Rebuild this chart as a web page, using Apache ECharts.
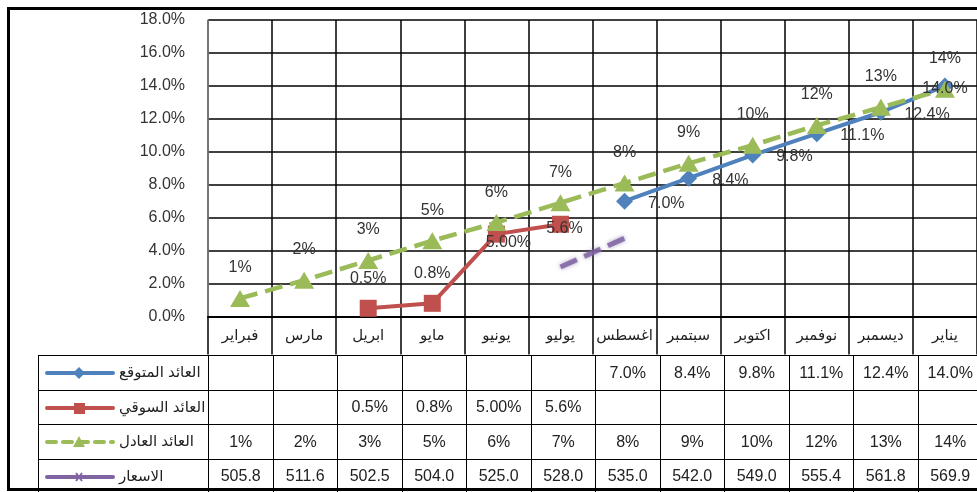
<!DOCTYPE html>
<html>
<head>
<meta charset="utf-8">
<script src="https://cdn.jsdelivr.net/npm/echarts@6/dist/echarts.min.js"></script>
<style>
  html, body { margin: 0; padding: 0; background: #fff; overflow: hidden; }
  .wrap { position: relative; width: 977px; height: 492px; overflow: hidden; }
  #chart { position: absolute; left: 0; top: 0; width: 977px; height: 492px; }
  .frame {
    position: absolute; left: 7px; top: 7px; width: 1000px; height: 484px;
    box-sizing: border-box; border: 3.5px solid #000; pointer-events: none; z-index: 5;
  }
  table.data {
    position: absolute; left: 38px; top: 355px; z-index: 3;
    border-collapse: collapse; table-layout: fixed; width: 944px;
    font-family: "Liberation Sans", "DejaVu Sans", sans-serif; font-size: 16px; color: #222;
  }
  table.data td {
    border: 1.5px solid #000; height: 34.5px; padding: 0; box-sizing: border-box;
    text-align: center; white-space: nowrap; overflow: hidden; position: relative;
  }
  td.key svg { position: absolute; left: 6px; top: 10px; }
  td.key span { position: absolute; left: 80px; top: 7px; font-size: 15px; }
</style>
</head>
<body>
<div class="wrap">
  <div id="chart"></div>
  <table class="data" id="tbl"></table>
  <div class="frame"></div>
</div>
<script>
// الأشهر
const months = ["فبراير", "مارس", "ابريل", "مايو", "يونيو", "يوليو", "اغسطس", "سبتمبر", "اكتوبر", "نوفمبر", "ديسمبر", "يناير"];
// العائد المتوقع
const expected = [null, null, null, null, null, null, 7.0, 8.4, 9.8, 11.1, 12.4, 14.0];
// العائد السوقي
const market = [null, null, 0.5, 0.8, 5.00, 5.6, null, null, null, null, null, null];
const marketText = ["", "", "0.5%", "0.8%", "5.00%", "5.6%", "", "", "", "", "", ""];
// العائد العادل
const fair = [1.1, 2.2, 3.4, 4.6, 5.7, 6.9, 8.1, 9.3, 10.4, 11.6, 12.7, 13.8];
// الاسعار
const prices = [505.8, 511.6, 502.5, 504.0, 525.0, 528.0, 535.0, 542.0, 549.0, 555.4, 561.8, 569.9];
const priceVisible = [5, 6]; // only this piece of the price line shows on the chart

const names = ["العائد المتوقع", "العائد السوقي", "العائد العادل", "الاسعار"];
const colors = ["#4F81BD", "#C0504D", "#9BBB59", "#8064A2"];

const FONT = '"Liberation Sans", "DejaVu Sans", sans-serif';

// label placement per point
const expectedLabel = (i) => i === 11
  ? { position: "inside", offset: [0, 3] }
  : { position: "right", distance: 15, offset: [0, 2] };
const marketLabel = {
  2: { position: "top", distance: 13 },
  3: { position: "top", distance: 13 },
  4: { position: "inside", offset: [12, 8] },
  5: { position: "inside", offset: [4, 4] },
};

const labelBase = { show: true, fontSize: 16, color: "#333", fontFamily: FONT };

const chart = echarts.init(document.getElementById("chart"));
chart.setOption({
  animation: false,
  grid: { left: 208, top: 20, width: 774, height: 296.5 },
  xAxis: {
    type: "category",
    data: months,
    boundaryGap: true,
    axisLine: { lineStyle: { color: "#000", width: 2 } },
    axisTick: { show: true, length: 38, lineStyle: { color: "#000", width: 1.5 } },
    axisLabel: { fontSize: 15, color: "#222", margin: 12, fontFamily: FONT, interval: 0 },
    splitLine: { show: true, lineStyle: { color: "#000", width: 1.5 } },
  },
  yAxis: [
    {
      type: "value",
      min: 0,
      max: 18,
      interval: 2,
      axisLine: { show: true, lineStyle: { color: "#888", width: 1.5 } },
      axisTick: { show: false },
      axisLabel: {
        fontSize: 16, color: "#333", margin: 23, fontFamily: FONT,
        formatter: (v) => v.toFixed(1) + "%",
      },
      splitLine: { lineStyle: { color: "#000", width: 1.5 } },
    },
    { type: "value", show: false, min: 516, max: 588 },
  ],
  series: [
    {
      name: names[0],
      type: "line",
      data: expected.map((v, i) => ({ value: v, label: expectedLabel(i) })),
      symbol: "diamond",
      symbolSize: 17,
      lineStyle: { color: colors[0], width: 4 },
      itemStyle: { color: colors[0] },
      label: { ...labelBase, formatter: (p) => p.value.toFixed(1) + "%" },
    },
    {
      name: names[1],
      type: "line",
      data: market.map((v, i) => ({ value: v, label: marketLabel[i] || {} })),
      symbol: "rect",
      symbolSize: 17,
      lineStyle: { color: colors[1], width: 4 },
      itemStyle: { color: colors[1] },
      label: { ...labelBase, formatter: (p) => marketText[p.dataIndex] },
    },
    {
      name: names[2],
      type: "line",
      data: fair,
      symbol: "triangle",
      symbolSize: [20, 17],
      lineStyle: { color: colors[2], width: 4.5, type: [18, 8] },
      itemStyle: { color: colors[2] },
      label: { ...labelBase, position: "top", distance: 14, formatter: (p) => p.value.toFixed(0) + "%" },
    },
    {
      name: names[3],
      type: "line",
      yAxisIndex: 1,
      data: prices.map((v, i) => (priceVisible.includes(i) ? v : null)),
      symbol: "none",
      lineStyle: {
        color: colors[3], width: 5, type: [18, 8], opacity: 0.85,
        shadowBlur: 4, shadowColor: "rgba(128,100,162,0.7)",
      },
      z: 1,
    },
  ],
});

// data table under the chart
const icons = [
  '<line x1="2" y1="7" x2="68" y2="7" stroke="#4F81BD" stroke-width="4" stroke-linecap="round"/><polygon points="34,1 40,7 34,13 28,7" fill="#4F81BD"/>',
  '<line x1="2" y1="7" x2="68" y2="7" stroke="#C0504D" stroke-width="4" stroke-linecap="round"/><rect x="29" y="2" width="11" height="11" fill="#C0504D"/>',
  '<line x1="2" y1="7" x2="68" y2="7" stroke="#9BBB59" stroke-width="4" stroke-dasharray="9 7" stroke-linecap="round"/><polygon points="34,1 40,12 28,12" fill="#9BBB59"/>',
  '<line x1="2" y1="7" x2="68" y2="7" stroke="#8064A2" stroke-width="4" stroke-linecap="round"/><path d="M31,3 L37,11 M37,3 L31,11" stroke="#8064A2" stroke-width="2"/>',
];
const rows = [
  expected.map((v) => (v == null ? "" : v.toFixed(1) + "%")),
  marketText,
  fair.map((v) => v.toFixed(0) + "%"),
  prices.map((v) => v.toFixed(1)),
];
let html = '<colgroup><col style="width:170px">' + months.map(() => '<col style="width:64.5px">').join("") + "</colgroup>";
rows.forEach((r, k) => {
  html += '<tr><td class="key"><svg width="70" height="14">' + icons[k] + "</svg><span>" + names[k] + "</span></td>";
  html += r.map((t) => "<td>" + t + "</td>").join("") + "</tr>";
});
document.getElementById("tbl").innerHTML = html;
</script>
</body>
</html>
